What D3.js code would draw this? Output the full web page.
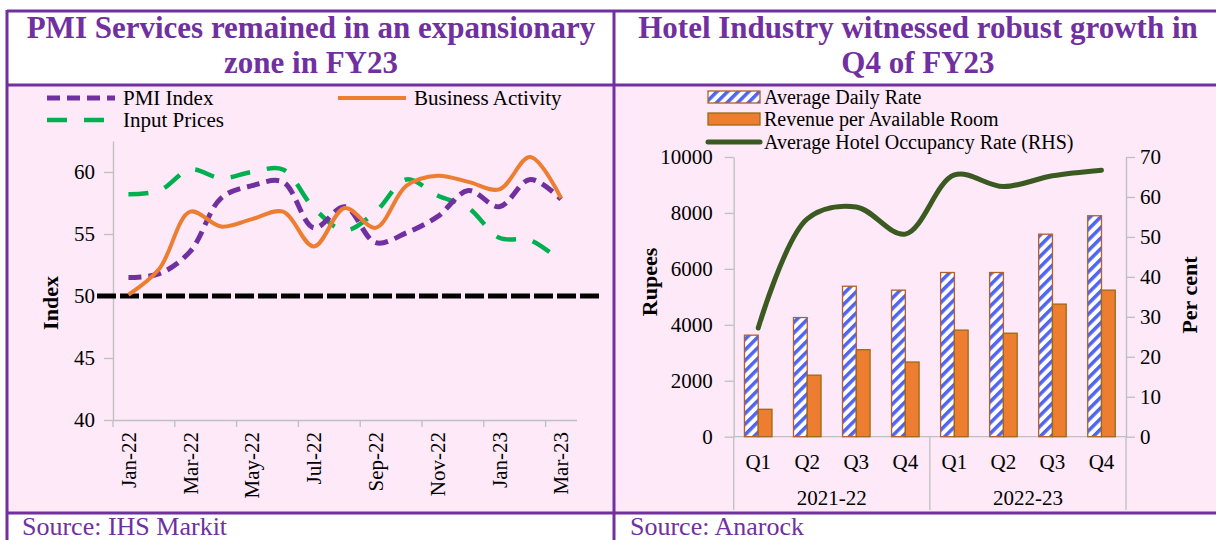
<!DOCTYPE html>
<html>
<head>
<meta charset="utf-8">
<script src="https://cdn.jsdelivr.net/npm/d3@7"></script>
<style>
body { margin: 0; background: #fff; }
svg text { font-family: "Liberation Serif", "Times New Roman", serif; }
</style>
</head>
<body>
<div id="chart"></div>
<script>
// left panel data
var months = ["Jan-22","Feb-22","Mar-22","Apr-22","May-22","Jun-22","Jul-22","Aug-22","Sep-22","Oct-22","Nov-22","Dec-22","Jan-23","Feb-23","Mar-23"];
var pmiIndex = [51.5,51.8,53.6,57.9,58.9,59.2,55.5,57.2,54.3,55.1,56.4,58.5,57.2,59.4,57.8];
var businessActivity = [50.1,52.2,56.8,55.6,56.2,56.8,54.0,57.1,55.5,58.9,59.7,59.2,58.6,61.2,57.9];
var inputPrices = [58.2,58.5,60.2,59.5,60.0,60.2,57.1,55.3,56.8,59.4,58.1,57.1,54.7,54.5,52.8];
var indexTicks = [40,45,50,55,60];

// right panel data
var quarters = ["Q1","Q2","Q3","Q4","Q1","Q2","Q3","Q4"];
var years = ["2021-22","2022-23"];
var avgDailyRate = [3630,4260,5380,5240,5870,5870,7240,7900];
var revPar = [980,2200,3110,2670,3810,3700,4740,5240];
var occupancy = [27.2,54.5,57.5,50.7,65.5,62.6,65.3,66.7];
var rupeeTicks = [0,2000,4000,6000,8000,10000];
var pctTicks = [0,10,20,30,40,50,60,70];

var W = 1216, H = 540;
var purple = "#7030A0", pink = "#FDE9F7", axisGrey = "#BFBFBF";
var serif = "'Liberation Serif', 'Times New Roman', serif";

var svg = d3.select("#chart").append("svg")
  .attr("width", W).attr("height", H);

var defs = svg.append("defs");
var pat = defs.append("pattern")
  .attr("id", "stripes")
  .attr("patternUnits", "userSpaceOnUse")
  .attr("width", 7.5).attr("height", 7.5)
  .attr("patternTransform", "rotate(45)");
pat.append("rect").attr("width", 7.5).attr("height", 7.5).attr("fill", "#fff");
pat.append("rect").attr("width", 3.5).attr("height", 7.5).attr("fill", "#4F64F0");

// panels and frame
svg.append("rect").attr("x", 7).attr("y", 85).attr("width", W - 7).attr("height", 428).attr("fill", pink);
var frame = svg.append("g").attr("stroke", purple).attr("stroke-width", 3);
frame.append("line").attr("x1", 7).attr("x2", W).attr("y1", 11).attr("y2", 11);
frame.append("line").attr("x1", 7).attr("x2", W).attr("y1", 85).attr("y2", 85);
frame.append("line").attr("x1", 7).attr("x2", W).attr("y1", 513).attr("y2", 513);
frame.append("line").attr("x1", 7).attr("x2", 7).attr("y1", 10).attr("y2", H);
frame.append("line").attr("x1", 614).attr("x2", 614).attr("y1", 10).attr("y2", H);

function title(cx, lines) {
  lines.forEach(function(t, i) {
    svg.append("text")
      .attr("x", cx).attr("y", 38 + i * 35)
      .attr("text-anchor", "middle")
      .style("font-size", "31px").style("font-weight", "bold")
      .style("fill", purple)
      .text(t);
  });
}
title(311, ["PMI Services remained in an expansionary", "zone in FY23"]);
title(918, ["Hotel Industry witnessed robust growth in", "Q4 of FY23"]);

svg.append("text").attr("x", 22).attr("y", 535).style("font-size", "26px").style("fill", purple).text("Source: IHS Markit");
svg.append("text").attr("x", 630).attr("y", 535).style("font-size", "26px").style("fill", purple).text("Source: Anarock");

function styleAxis(g) {
  g.attr("font-family", serif).attr("font-size", 21);
  g.select(".domain").attr("stroke", axisGrey).attr("stroke-width", 1.3);
  g.selectAll(".tick line").attr("stroke", axisGrey).attr("stroke-width", 1.3);
  g.selectAll("text").attr("fill", "#000")
    .style("font-family", serif).style("font-size", "21px");
}

// ---------- left chart ----------
var x = d3.scaleBand().domain(months).range([113, 576.5]).padding(0);
var y = d3.scaleLinear().domain([40, 62.5]).range([420, 141]);

var yAxisL = svg.append("g").attr("transform", "translate(113,0)")
  .call(d3.axisLeft(y).tickValues(indexTicks).tickSize(9).tickSizeOuter(0).tickPadding(9));
styleAxis(yAxisL);

var xAxisL = svg.append("g").attr("transform", "translate(0,420)")
  .call(d3.axisBottom(x).tickValues(months.filter(function(d, i) { return i % 2 == 0; })).tickSize(0).tickSizeOuter(0));
styleAxis(xAxisL);
xAxisL.selectAll("text")
  .attr("transform", "rotate(-90)")
  .attr("x", -12).attr("y", 0).attr("dy", "0.35em")
  .style("text-anchor", "end");
xAxisL.selectAll(".boundary")
  .data(months.filter(function(d, i) { return i % 2 == 0; }))
  .enter().append("line")
  .attr("x1", function(d) { return x(d); }).attr("x2", function(d) { return x(d); })
  .attr("y1", 0).attr("y2", 7)
  .attr("stroke", axisGrey).attr("stroke-width", 1.3);

svg.append("text")
  .attr("transform", "translate(58,303) rotate(-90)")
  .attr("text-anchor", "middle")
  .style("font-size", "22px").style("font-weight", "bold")
  .text("Index");

// threshold line at 50
svg.append("line")
  .attr("x1", 97).attr("x2", 601)
  .attr("y1", y(50)).attr("y2", y(50))
  .attr("stroke", "#000").attr("stroke-width", 5)
  .attr("stroke-dasharray", "19,4");

var line = d3.line()
  .x(function(d, i) { return x(months[i]) + x.bandwidth() / 2; })
  .y(function(d) { return y(d); })
  .curve(d3.curveCatmullRom.alpha(0.5));

var series = [
  {name: "Input Prices", values: inputPrices, color: "#00B050", width: 4.5, dash: "20,17"},
  {name: "PMI Index", values: pmiIndex, color: "#7030A0", width: 5, dash: "13,7"},
  {name: "Business Activity", values: businessActivity, color: "#ED7D31", width: 4, dash: null}
];

svg.append("g").selectAll("path")
  .data(series)
  .enter().append("path")
  .attr("d", function(d) { return line(d.values); })
  .attr("fill", "none")
  .attr("stroke", function(d) { return d.color; })
  .attr("stroke-width", function(d) { return d.width; })
  .attr("stroke-dasharray", function(d) { return d.dash; });

// left legend
var legL = [
  {s: series[1], x: 47, y: 98},
  {s: series[2], x: 338, y: 98},
  {s: series[0], x: 47, y: 120}
];
legL.forEach(function(l) {
  svg.append("line")
    .attr("x1", l.x).attr("x2", l.x + 68).attr("y1", l.y).attr("y2", l.y)
    .attr("stroke", l.s.color).attr("stroke-width", l.s.width)
    .attr("stroke-dasharray", l.s.dash);
  svg.append("text")
    .attr("x", l.x + 76).attr("y", l.y).attr("dy", "0.33em")
    .style("font-size", "21px")
    .text(l.s.name);
});

// ---------- right chart ----------
var xq = d3.scaleBand().domain(d3.range(quarters.length)).range([733.7, 1126]).padding(0);
var xs = d3.scaleBand().domain(["adr", "revpar"]).range([10.75, xq.bandwidth() - 10.75]).padding(0);
var yL = d3.scaleLinear().domain([0, 10000]).range([436.7, 157]);
var yR = d3.scaleLinear().domain([0, 70]).range([436.7, 157]);

var axL = svg.append("g").attr("transform", "translate(733.7,0)")
  .call(d3.axisLeft(yL).tickValues(rupeeTicks).tickFormat(d3.format("d")).tickSize(9).tickSizeOuter(0).tickPadding(12));
styleAxis(axL);
var axR = svg.append("g").attr("transform", "translate(1126,0)")
  .call(d3.axisRight(yR).tickValues(pctTicks).tickSize(9).tickSizeOuter(0).tickPadding(5));
styleAxis(axR);

svg.append("line")
  .attr("x1", 733.7).attr("x2", 1126).attr("y1", yL(0)).attr("y2", yL(0))
  .attr("stroke", axisGrey).attr("stroke-width", 1.3);
[0, 4, 8].forEach(function(i) {
  var xx = i < 8 ? xq(i) : xq(7) + xq.bandwidth();
  svg.append("line")
    .attr("x1", xx).attr("x2", xx).attr("y1", yL(0)).attr("y2", 510)
    .attr("stroke", axisGrey).attr("stroke-width", 1.3);
});
svg.append("g").selectAll("text")
  .data(quarters).enter().append("text")
  .attr("x", function(d, i) { return xq(i) + xq.bandwidth() / 2; })
  .attr("y", 469)
  .attr("text-anchor", "middle")
  .style("font-size", "21px")
  .text(function(d) { return d; });
svg.append("g").selectAll("text")
  .data(years).enter().append("text")
  .attr("x", function(d, i) { return xq(i * 4) + 2 * xq.bandwidth(); })
  .attr("y", 505)
  .attr("text-anchor", "middle")
  .style("font-size", "21px")
  .text(function(d) { return d; });

svg.append("text")
  .attr("transform", "translate(657,282) rotate(-90)")
  .attr("text-anchor", "middle")
  .style("font-size", "22px").style("font-weight", "bold")
  .text("Rupees");
svg.append("text")
  .attr("transform", "translate(1197,295) rotate(-90)")
  .attr("text-anchor", "middle")
  .style("font-size", "22px").style("font-weight", "bold")
  .text("Per cent");

var bars = svg.append("g");
bars.selectAll(".adr")
  .data(avgDailyRate).enter().append("rect")
  .attr("x", function(d, i) { return xq(i) + xs("adr"); })
  .attr("y", function(d) { return yL(d); })
  .attr("width", xs.bandwidth())
  .attr("height", function(d) { return yL(0) - yL(d); })
  .attr("fill", "url(#stripes)")
  .attr("stroke", "#B4602A").attr("stroke-width", 1.3);
bars.selectAll(".rev")
  .data(revPar).enter().append("rect")
  .attr("x", function(d, i) { return xq(i) + xs("revpar"); })
  .attr("y", function(d) { return yL(d); })
  .attr("width", xs.bandwidth())
  .attr("height", function(d) { return yL(0) - yL(d); })
  .attr("fill", "#ED7D31")
  .attr("stroke", "#9C6A14").attr("stroke-width", 1.3);

var occLine = d3.line()
  .x(function(d, i) { return xq(i) + xq.bandwidth() / 2; })
  .y(function(d) { return yR(d); })
  .curve(d3.curveCatmullRom.alpha(0.5));
svg.append("path")
  .attr("d", occLine(occupancy))
  .attr("fill", "none")
  .attr("stroke", "#3B5A21").attr("stroke-width", 5)
  .attr("stroke-linecap", "round");

// right legend
svg.append("rect").attr("x", 708).attr("y", 91).attr("width", 52).attr("height", 12)
  .attr("fill", "url(#stripes)").attr("stroke", "#B4602A").attr("stroke-width", 1.3);
svg.append("rect").attr("x", 708).attr("y", 113).attr("width", 52).attr("height", 12)
  .attr("fill", "#ED7D31").attr("stroke", "#9C6A14").attr("stroke-width", 1.3);
svg.append("line").attr("x1", 708).attr("x2", 760).attr("y1", 142).attr("y2", 142)
  .attr("stroke", "#3B5A21").attr("stroke-width", 5).attr("stroke-linecap", "round");
["Average Daily Rate", "Revenue per Available Room", "Average Hotel Occupancy Rate (RHS)"].forEach(function(t, i) {
  svg.append("text")
    .attr("x", 764).attr("y", [97, 119, 142][i]).attr("dy", "0.33em")
    .style("font-size", "20px")
    .text(t);
});
</script>
</body>
</html>
